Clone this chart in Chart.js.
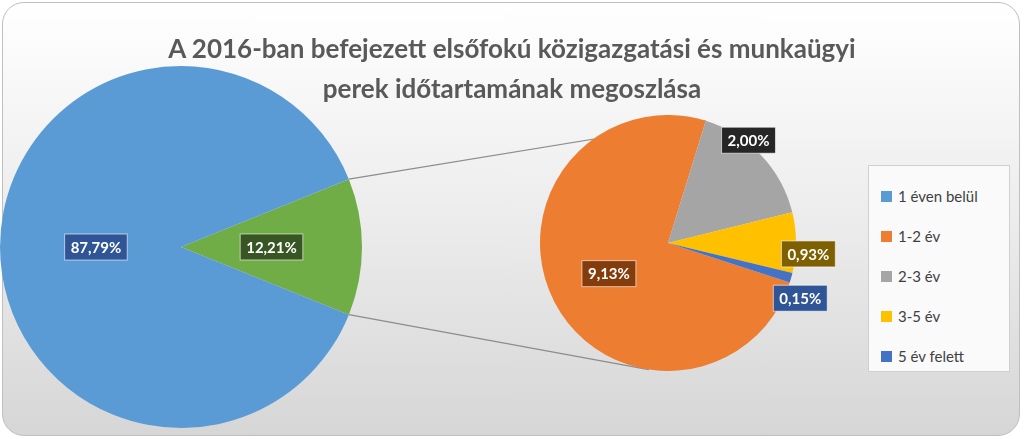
<!DOCTYPE html>
<html><head><meta charset="utf-8">
<script src="https://cdn.jsdelivr.net/npm/chart.js@4"></script>
<style>
body{margin:0;width:1024px;height:439px;overflow:hidden;font-family:Lato,"Open Sans",sans-serif;}
#frame{position:absolute;left:2px;top:2px;width:1016px;height:432px;border:1.5px solid #bfbfbf;border-radius:22px;
background:linear-gradient(180deg,#ffffff 0%,#ececec 50%,#d6d6d6 100%);overflow:hidden;}
#title{position:absolute;left:0;width:1024px;top:28px;text-align:center;font-weight:bold;font-size:26px;line-height:40px;color:#595959;}
.c{position:absolute;}
#legend{position:absolute;left:868px;top:165px;width:142px;height:207px;background:#fafafa;border:1px solid #d0d0d0;box-sizing:border-box;padding:10px 0 0 12px;font-size:15px;color:#404040;}
#legend div{height:40px;display:flex;align-items:center;}
#legend span{display:inline-block;width:11px;height:11px;margin-right:6px;}
</style></head><body>
<div id="frame"></div>
<canvas id="lines" class="c" width="1024" height="439" style="left:0;top:0"></canvas>
<div class="c" style="left:0;top:66px;width:362px;height:362px"><canvas id="p1"></canvas></div>
<div class="c" style="left:540px;top:115px;width:256px;height:256px"><canvas id="p2"></canvas></div>
<div id="title">A 2016-ban befejezett elsőfokú közigazgatási és munkaügyi<br>perek időtartamának megoszlása</div>
<div id="legend"></div>
<canvas id="labels" class="c" width="1024" height="439" style="left:0;top:0"></canvas>
<script>
const mainLabels=['12,21%','87,79%'];
const mainValues=[12.21,87.79];
const mainColors=['#70AD47','#5B9BD5'];
const mainBoxes=['#375623','#2F5597'];
const subCategories=['1-2 év','2-3 év','3-5 év','5 év felett'];
const subValues=[9.13,2.00,0.93,0.15];
const subLabels=['9,13%','2,00%','0,93%','0,15%'];
const subColors=['#ED7D31','#A5A5A5','#FFC000','#4472C4'];
const subBoxes=['#843C0C','#262626','#7F6000','#2F5597'];
const legendCats=['1 éven belül','1-2 év','2-3 év','3-5 év','5 év felett'];
const legendColors=['#5B9BD5','#ED7D31','#A5A5A5','#FFC000','#4472C4'];

document.getElementById('legend').innerHTML=legendCats.map((c,i)=>`<div><span style="background:${legendColors[i]}"></span>${c}</div>`).join('');

const base={responsive:true,maintainAspectRatio:false,animation:false,plugins:{legend:{display:false},tooltip:{enabled:false}},layout:{padding:0}};
const c1=new Chart(document.getElementById('p1'),{type:'pie',data:{labels:mainLabels,datasets:[{data:mainValues,backgroundColor:mainColors,borderWidth:0}]},
 options:{...base,rotation:68}});
const c2=new Chart(document.getElementById('p2'),{type:'pie',data:{labels:subCategories,datasets:[{data:subValues,backgroundColor:subColors,borderWidth:0}]},
 options:{...base,rotation:108}});
function drawLabels(ctx,ch,texts,boxes,place){
 const r=ch.canvas.getBoundingClientRect();
 ch.getDatasetMeta(0).data.forEach((a,i)=>{
  const p=place[i];const ang=(a.startAngle+a.endAngle)/2+p[1];
  const x=r.left+a.x+Math.cos(ang)*a.outerRadius*p[0], y=r.top+a.y+Math.sin(ang)*a.outerRadius*p[0];
  ctx.font='bold 15px Lato, sans-serif';const w=ctx.measureText(texts[i]).width+12,h=26;
  ctx.fillStyle=boxes[i];ctx.strokeStyle='rgba(255,255,255,0.6)';ctx.lineWidth=1;
  ctx.fillRect(x-w/2,y-h/2,w,h);ctx.strokeRect(x-w/2,y-h/2,w,h);
  ctx.fillStyle='#fff';ctx.textAlign='center';ctx.textBaseline='middle';ctx.fillText(texts[i],x,y+1);
 });}
setTimeout(()=>{
 const a=c1.getDatasetMeta(0).data[0], b=c2.getDatasetMeta(0).data;
 const r1=c1.canvas.getBoundingClientRect(), r2=c2.canvas.getBoundingClientRect();
 const ctx=document.getElementById('lines').getContext('2d');
 ctx.strokeStyle='#8c8c8c';ctx.lineWidth=1.2;
 const cx=r2.left+b[0].x, cy=r2.top+b[0].y, R=b[0].outerRadius;
 [[a.startAngle,-1],[a.endAngle,1]].forEach(([ang,s])=>{
  ctx.beginPath();ctx.moveTo(r1.left+a.x+Math.cos(ang)*a.outerRadius,r1.top+a.y+Math.sin(ang)*a.outerRadius);
  const t=s<0?b[1].startAngle:Math.PI/2+0.15;
  ctx.lineTo(cx+Math.cos(t)*R,cy+Math.sin(t)*R);ctx.stroke();
 });
 const lc=document.getElementById('labels').getContext('2d');
 drawLabels(lc,c1,mainLabels,mainBoxes,[[0.5,0],[0.47,0]]);
 drawLabels(lc,c2,subLabels,subBoxes,[[0.52,0],[1.02,-0.15],[1.1,0.08],[1.12,0.12]]);
},50);
</script></body></html>
